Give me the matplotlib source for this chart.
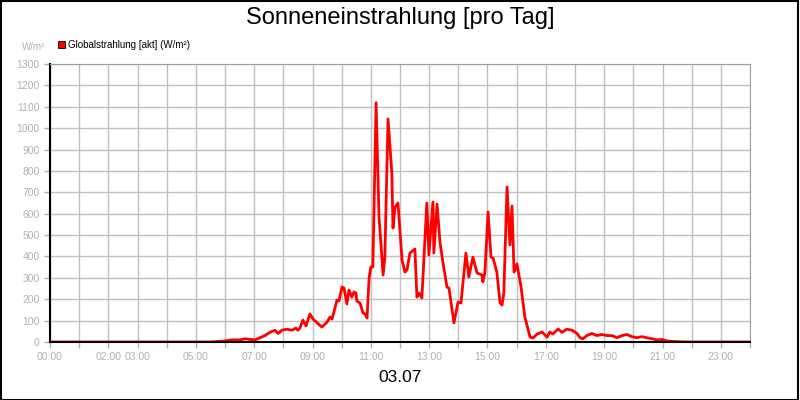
import matplotlib

matplotlib.use("Agg")
import matplotlib.pyplot as plt
from matplotlib.patches import Rectangle

plt.rcParams["font.family"] = ["Liberation Sans", "DejaVu Sans"]

hours = [0, 5.49, 6.00, 6.24, 6.51, 6.69, 6.86, 7.03, 7.20, 7.37, 7.54, 7.71, 7.82, 7.95, 8.12,
         8.30, 8.43, 8.50, 8.57, 8.67, 8.78, 8.91, 9.02, 9.32, 9.50, 9.60, 9.67, 9.84, 9.91,
         10.01, 10.08, 10.18, 10.25, 10.35, 10.42, 10.49, 10.52, 10.63, 10.73, 10.80, 10.87,
         10.94, 11.00, 11.07, 11.18, 11.28, 11.38, 11.42, 11.48, 11.59, 11.72, 11.76, 11.83,
         11.93, 12.07, 12.17, 12.24, 12.34, 12.51, 12.58, 12.65, 12.75, 12.92, 12.99, 13.13,
         13.16, 13.27, 13.37, 13.47, 13.61, 13.68, 13.85, 13.99, 14.09, 14.26, 14.36, 14.50,
         14.64, 14.81, 14.84, 14.91, 15.02, 15.12, 15.19, 15.32, 15.43, 15.50, 15.56, 15.67,
         15.77, 15.84, 15.91, 16.01, 16.15, 16.28, 16.46, 16.56, 16.70, 16.87, 17.04, 17.14,
         17.24, 17.42, 17.55, 17.72, 17.90, 18.07, 18.17, 18.27, 18.41, 18.58, 18.75, 18.92,
         19.10, 19.27, 19.44, 19.61, 19.78, 19.95, 20.12, 20.29, 20.46, 20.64, 20.81, 20.98,
         21.15, 21.43, 21.94, 24]
values = [0, 0, 5, 10, 10, 15, 12, 10, 20, 30, 45, 55, 40, 55, 60,
          55, 65, 55, 65, 103, 75, 131, 107, 70, 93, 117, 107, 196, 192,
          257, 252, 178, 243, 210, 234, 229, 192, 182, 136, 131, 112,
          299, 351, 351, 1119, 585, 397, 313, 397, 1043, 790, 533, 631,
          650, 383, 327, 337, 416, 435, 210, 229, 206, 650, 407, 655,
          416, 645, 468, 374, 257, 252, 89, 187, 182, 416, 304, 397,
          323, 313, 281, 323, 608, 397, 393, 327, 182, 173, 229, 725,
          454, 636, 327, 365, 257, 117, 23, 19, 37, 47, 23, 47,
          37, 61, 45, 60, 55, 40, 20, 15, 30, 40, 30, 35,
          30, 30, 20, 30, 35, 25, 20, 25, 20, 15, 10, 12,
          5, 2, 0, 0]
tick_hours = [0, 2, 3, 5, 7, 9, 11, 13, 15, 17, 19, 21, 23]
tick_labels = ["00:00", "02:00", "03:00", "05:00", "07:00", "09:00", "11:00",
               "13:00", "15:00", "17:00", "19:00", "21:00", "23:00"]
y_ticks = list(range(0, 1301, 100))

fig = plt.figure(figsize=(8, 4), dpi=100)
fig.patches.append(Rectangle((0.001, 0.001), 0.997, 0.996, transform=fig.transFigure,
                             fill=False, edgecolor="black", linewidth=1.5))
ax = fig.add_axes([0.0625, 0.145, 0.875, 0.695])
ax.plot(hours, values, color="#ff0000", linewidth=2)
ax.set_xlim(0, 24)
ax.set_ylim(0, 1300)
ax.set_xticks(range(0, 25))
ax.set_xticklabels([tick_labels[tick_hours.index(h)] if h in tick_hours else "" for h in range(25)])
ax.set_yticks(y_ticks)
ax.grid(True, color="#c0c0c0", linewidth=1)
ax.set_axisbelow(True)
ax.tick_params(colors="#b0b0b0", labelsize=7.5, length=4, width=1)
for side in ("top", "right"):
    ax.spines[side].set_color("#a0a0a0")
for side in ("left", "bottom"):
    ax.spines[side].set_color("black")
    ax.spines[side].set_linewidth(1.5)

fig.text(0.5, 0.955, "Sonneneinstrahlung [pro Tag]", ha="center", va="center", fontsize=17)
fig.text(0.0275, 0.883, "W/m²", ha="left", va="center", fontsize=7, color="#b0b0b0")
fig.patches.append(Rectangle((0.0725, 0.879), 0.009, 0.018, transform=fig.transFigure,
                             facecolor="#ff0000", edgecolor="black", linewidth=0.6))
fig.text(0.085, 0.888, "Globalstrahlung [akt] (W/m²)", ha="left", va="center", fontsize=7)
fig.text(0.5, 0.055, "03.07", ha="center", va="center", fontsize=12.5)

fig.savefig("out.png", dpi=100)
plt.close(fig)
